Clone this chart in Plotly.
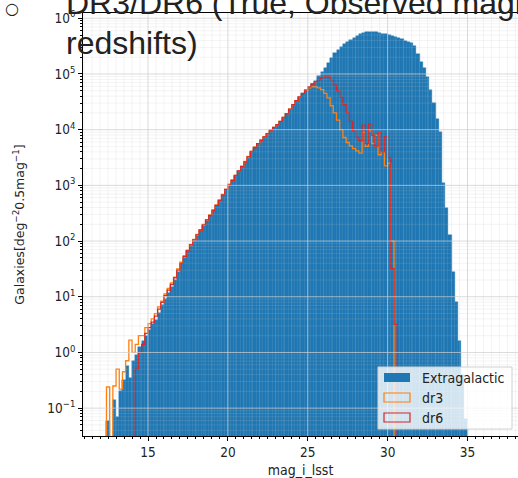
import numpy as np
import plotly.graph_objects as go

# Histogram binning (magnitudes)
bin_start = 12.4
bin_width = 0.2

# Galaxy counts per bin [deg^-2 0.5mag^-1]
extragalactic = [
    0.06, 0, 0.14, 0.07, 0.2, 0.32, 0.56, 0.35, 0.71, 0.89,
    1.26, 1.6, 2.0, 2.5, 3.2, 3.8, 5.2, 7.1, 9.3, 11.7,
    14.8, 20, 28, 38, 50, 65, 81, 100, 123, 151,
    186, 229, 282, 347, 427, 525, 661, 832, 1000, 1200,
    1480, 1780, 2140, 2570, 3160, 3980, 4680, 5500, 6310, 7240,
    8320, 9550, 10700, 12000, 13800, 16200, 19100, 22900, 27500, 32400,
    38000, 43700, 50100, 57500, 66100, 75900, 91200, 110000, 129000, 155000,
    195000, 234000, 269000, 302000, 339000, 372000, 407000, 447000, 479000, 513000,
    537000, 556000, 562000, 562000, 556000, 543000, 531000, 513000, 501000, 484000,
    462000, 442000, 422000, 398000, 376000, 355000, 316000, 229000, 166000, 126000,
    89100, 52500, 30200, 15800, 8910, 1120, 398, 126, 28, 7.9,
    1.6, 0.4, 0.063,
]

dr3 = [
    0.24, 0, 0.25, 0.5, 0.22, 0.45, 0.71, 1.66, 1.0, 1.4,
    2.0, 2.0, 2.8, 3.3, 4.0, 5.0, 6.6, 8.3, 11.2, 14.1,
    17.8, 22.4, 31.6, 41.7, 55, 69, 87, 107, 132, 158,
    200, 240, 295, 363, 447, 550, 692, 851, 1050, 1260,
    1510, 1820, 2190, 2690, 3310, 4070, 4900, 5620, 6460, 7410,
    8510, 9770, 11000, 12300, 14100, 16600, 19500, 23400, 28200, 33100,
    38900, 44700, 51300, 56200, 58900, 58900, 56200, 52500, 44700, 37200,
    26900, 20000, 14800, 10000, 7240, 5890, 5130, 4570, 4170, 3800,
    8910, 5010, 9550, 5620, 7940, 3550, 3980, 2240, 2510, 100,
]

dr6 = [
    0, 0, 0, 0, 0, 0, 0, 0, 0, 0.5,
    1.0, 1.4, 2.2, 2.8, 3.5, 4.5, 6.0, 7.9, 10.5, 13.2,
    16.6, 21.9, 30.2, 39.8, 52.5, 67.6, 85.1, 105, 129, 158,
    195, 240, 288, 355, 437, 537, 676, 851, 1020, 1230,
    1510, 1820, 2190, 2630, 3240, 4070, 4790, 5620, 6460, 7410,
    8510, 9770, 11000, 12300, 14100, 16600, 19500, 23400, 28200, 33100,
    38900, 44700, 51300, 58900, 66100, 72400, 79400, 85100, 89100, 89100,
    79400, 63100, 50100, 38000, 28200, 20000, 14100, 9550, 7240, 6310,
    12000, 5620, 12600, 7940, 5010, 8910, 3980, 7410, 3160, 32,
    3.2,
]

series_names = ["Extragalactic", "dr3", "dr6"]
colors = {"Extragalactic": "#1f77b4", "dr3": "#ff7f0e", "dr6": "#d62728"}

x_major = [15, 20, 25, 30, 35]
y_decades = list(range(-1, 7))
y_ticktext = [f"10<sup>{'−' if e < 0 else ''}{abs(e)}</sup>" for e in y_decades]

x_range = [10.93, 38.16]
y_range = [-1.5, 6.095]

W, H = 518, 478
ML, MR, MT, MB = 83, 0, 13, 42
PW, PH = W - ML - MR, H - MT - MB

CHART_FONT = "DejaVu Sans Condensed, DejaVu Sans, sans-serif"
SLIDE_FONT = "Liberation Sans, Arial, sans-serif"
INK = "#222222"


def px_to_paper_x(px):
    return (px - ML) / PW


def px_to_paper_y(py):
    return (H - MB - py) / PH


def bin_edges(n):
    return bin_start + bin_width * np.arange(n + 1)


def step_outline(counts, floor=1e-3):
    edges = bin_edges(len(counts))
    ys = [c if c > 0 else floor for c in counts]
    xs = [edges[0]] + list(edges[:-1]) + [edges[-1]]
    return xs, [floor] + ys + [floor]


fig = go.Figure()

edges_eg = bin_edges(len(extragalactic))
centers = (edges_eg[:-1] + edges_eg[1:]) / 2
fig.add_trace(go.Bar(
    x=centers,
    y=[c if c > 0 else None for c in extragalactic],
    width=bin_width,
    marker=dict(color=colors["Extragalactic"], line=dict(color=colors["Extragalactic"], width=0.4)),
    name="Extragalactic",
    showlegend=False,
))

for name, counts in (("dr3", dr3), ("dr6", dr6)):
    xs, ys = step_outline(counts)
    fig.add_trace(go.Scatter(
        x=xs, y=ys, mode="lines", line_shape="hv",
        line=dict(color=colors[name], width=1.3),
        name=name, showlegend=False,
    ))

shapes = []
minor_line = dict(color="rgba(190,190,190,0.22)", width=0.8)
major_line = dict(color="rgba(205,205,205,0.75)", width=1)
# minor grid
for k in range(22, 77):
    v = k / 2
    if v % 5 == 0 or not (x_range[0] < v < x_range[1]):
        continue
    shapes.append(dict(type="line", xref="x", yref="paper", x0=v, x1=v, y0=0, y1=1,
                       line=minor_line, layer="above"))
for e in range(-2, 7):
    for m in range(2, 10):
        val = m * 10.0 ** e
        if y_range[0] < np.log10(val) < y_range[1]:
            shapes.append(dict(type="line", xref="paper", yref="y", x0=0, x1=1, y0=val, y1=val,
                               line=minor_line, layer="above"))
# major grid
for v in x_major:
    shapes.append(dict(type="line", xref="x", yref="paper", x0=v, x1=v, y0=0, y1=1,
                       line=major_line, layer="above"))
for e in y_decades:
    val = 10.0 ** e
    shapes.append(dict(type="line", xref="paper", yref="y", x0=0, x1=1, y0=val, y1=val,
                       line=major_line, layer="above"))

# legend box
lx0, lx1, ly0, ly1 = 378, 512, 367, 429
shapes.append(dict(type="rect", xref="paper", yref="paper",
                   x0=px_to_paper_x(lx0), x1=px_to_paper_x(lx1),
                   y0=px_to_paper_y(ly1), y1=px_to_paper_y(ly0),
                   fillcolor="rgba(255,255,255,0.8)", line=dict(color="#d0d0d0", width=1),
                   layer="above"))
annotations = []
for i, name in enumerate(series_names):
    cy = 377.5 + 20 * i
    patch = dict(type="rect", xref="paper", yref="paper",
                 x0=px_to_paper_x(384), x1=px_to_paper_x(410),
                 y0=px_to_paper_y(cy + 4.5), y1=px_to_paper_y(cy - 4.5), layer="above")
    if name == "Extragalactic":
        patch.update(fillcolor=colors[name], line=dict(width=0))
    else:
        patch.update(fillcolor="rgba(0,0,0,0)", line=dict(color=colors[name], width=1.2))
    shapes.append(patch)
    annotations.append(dict(text=name, xref="paper", yref="paper",
                            x=px_to_paper_x(420), y=px_to_paper_y(cy),
                            xanchor="left", yanchor="middle", showarrow=False,
                            font=dict(family=CHART_FONT, size=14, color=INK)))

# slide heading overlaid on the figure
annotations.append(dict(text="○", xref="paper", yref="paper",
                        x=px_to_paper_x(3), y=px_to_paper_y(8), xanchor="left", yanchor="middle",
                        showarrow=False, font=dict(family="DejaVu Sans, sans-serif", size=16, color=INK)))
annotations.append(dict(text="DR3/DR6 (True, Observed magnitudes and", xref="paper", yref="paper",
                        x=px_to_paper_x(64), y=px_to_paper_y(23), xanchor="left", yanchor="bottom",
                        showarrow=False, font=dict(family=SLIDE_FONT, size=32, color=INK)))
annotations.append(dict(text="redshifts)", xref="paper", yref="paper",
                        x=px_to_paper_x(64), y=px_to_paper_y(63), xanchor="left", yanchor="bottom",
                        showarrow=False, font=dict(family=SLIDE_FONT, size=32, color=INK)))

fig.update_layout(
    width=W, height=H,
    margin=dict(l=ML, r=MR, t=MT, b=MB, autoexpand=False),
    paper_bgcolor="white", plot_bgcolor="white",
    bargap=0, showlegend=False,
    shapes=shapes, annotations=annotations,
    font=dict(family=CHART_FONT, size=13, color=INK),
)
fig.update_xaxes(
    range=x_range, tickmode="array", tickvals=x_major,
    ticks="outside", ticklen=4, tickcolor="black", tickfont=dict(size=13.5),
    showline=True, linecolor="black", linewidth=1, mirror=True, showgrid=False, zeroline=False,
    minor=dict(ticks="outside", ticklen=2, tickcolor="black", dtick=0.5, showgrid=False),
    title=dict(text="mag_i_lsst", font=dict(size=14), standoff=6),
    automargin=False,
)
fig.update_yaxes(
    type="log", range=y_range, tickmode="array",
    tickvals=[10.0 ** e for e in y_decades], ticktext=y_ticktext,
    ticks="outside", ticklen=4, tickcolor="black", tickfont=dict(size=13.5),
    showline=True, linecolor="black", linewidth=1, mirror=True, showgrid=False, zeroline=False,
    minor=dict(ticks="outside", ticklen=2, tickcolor="black", dtick="D1", showgrid=False),
    title=dict(text="Galaxies[deg<sup>−2</sup>0.5mag<sup>−1</sup>]",
               font=dict(family="DejaVu Sans, sans-serif", size=12.5), standoff=19),
    automargin=False,
)

fig.write_html("out.html")
